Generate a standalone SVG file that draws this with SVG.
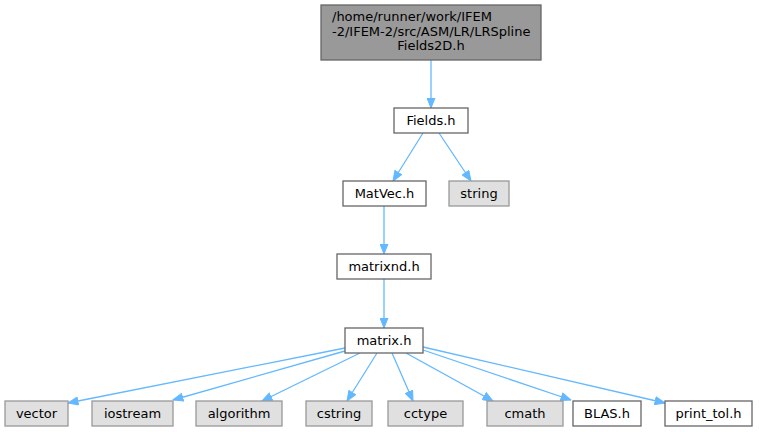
<svg xmlns="http://www.w3.org/2000/svg" width="759" height="432" viewBox="0 0 759 432">
<style>
  text { font-family: "DejaVu Sans", "Liberation Sans", sans-serif; font-size: 13px; fill: #000; }
  .c { text-anchor: middle; }
  .w { fill: #ffffff; stroke: #666666; stroke-width: 1.3; }
  .g { fill: #e0e0e0; stroke: #999999; stroke-width: 1.3; }
  .top { fill: #999999; stroke: #666666; stroke-width: 1.3; }
  .e { fill: none; stroke: #63b8ff; stroke-width: 1.3; marker-end: url(#arr); }
</style>
<defs>
  <marker id="arr" markerUnits="userSpaceOnUse" markerWidth="11" markerHeight="9" refX="10.5" refY="4.5" orient="auto">
    <path d="M0.5,0.5 L10.5,4.5 L0.5,8.5 z" fill="#63b8ff" stroke="#63b8ff" stroke-width="1"/>
  </marker>
</defs>
<rect width="759" height="432" fill="#ffffff"/>
<g id="edges">
  <path class="e" d="M431,60 L431,108"/>
  <path class="e" d="M423,133 L393,181"/>
  <path class="e" d="M439,133 L471,181"/>
  <path class="e" d="M384,206 L384,254"/>
  <path class="e" d="M384,279 L384,328"/>
  <path class="e" d="M345,348 L68,403"/>
  <path class="e" d="M345,351 L173,400"/>
  <path class="e" d="M360,353 L262,401"/>
  <path class="e" d="M377,353 L347,401"/>
  <path class="e" d="M392,353 L413,401"/>
  <path class="e" d="M406,353 L493,401"/>
  <path class="e" d="M423,350 L571,400"/>
  <path class="e" d="M423,347 L665,403"/>
</g>
<g id="node_top">
  <rect class="top" x="321" y="5" width="220" height="55"/>
  <text x="332" y="21">/home/runner/work/IFEM</text>
  <text x="332" y="35.5">-2/IFEM-2/src/ASM/LR/LRSpline</text>
  <text class="c" x="431" y="50">Fields2D.h</text>
</g>
<g id="node_fields">
  <rect class="w" x="394" y="108" width="74" height="25"/>
  <text class="c" x="431" y="125">Fields.h</text>
</g>
<g id="node_matvec">
  <rect class="w" x="343" y="181" width="83" height="25"/>
  <text class="c" x="384.5" y="198">MatVec.h</text>
</g>
<g id="node_string">
  <rect class="g" x="449" y="181" width="60" height="25"/>
  <text class="c" x="479" y="198">string</text>
</g>
<g id="node_matrixnd">
  <rect class="w" x="337" y="254" width="94" height="25"/>
  <text class="c" x="384" y="271">matrixnd.h</text>
</g>
<g id="node_matrix">
  <rect class="w" x="345" y="328" width="78" height="25"/>
  <text class="c" x="384" y="345">matrix.h</text>
</g>
<g id="node_vector">
  <rect class="g" x="5" y="401" width="63" height="25"/>
  <text class="c" x="36.5" y="418">vector</text>
</g>
<g id="node_iostream">
  <rect class="g" x="92" y="401" width="81" height="25"/>
  <text class="c" x="132.5" y="418">iostream</text>
</g>
<g id="node_algorithm">
  <rect class="g" x="196" y="401" width="86" height="25"/>
  <text class="c" x="239" y="418">algorithm</text>
</g>
<g id="node_cstring">
  <rect class="g" x="306" y="401" width="66" height="25"/>
  <text class="c" x="339" y="418">cstring</text>
</g>
<g id="node_cctype">
  <rect class="g" x="388" y="401" width="75" height="25"/>
  <text class="c" x="425.5" y="418">cctype</text>
</g>
<g id="node_cmath">
  <rect class="g" x="487" y="401" width="76" height="25"/>
  <text class="c" x="525" y="418">cmath</text>
</g>
<g id="node_blas">
  <rect class="w" x="573" y="401" width="68" height="25"/>
  <text class="c" x="607" y="418">BLAS.h</text>
</g>
<g id="node_printtol">
  <rect class="w" x="665" y="401" width="87" height="25"/>
  <text class="c" x="708.5" y="418">print_tol.h</text>
</g>
</svg>
